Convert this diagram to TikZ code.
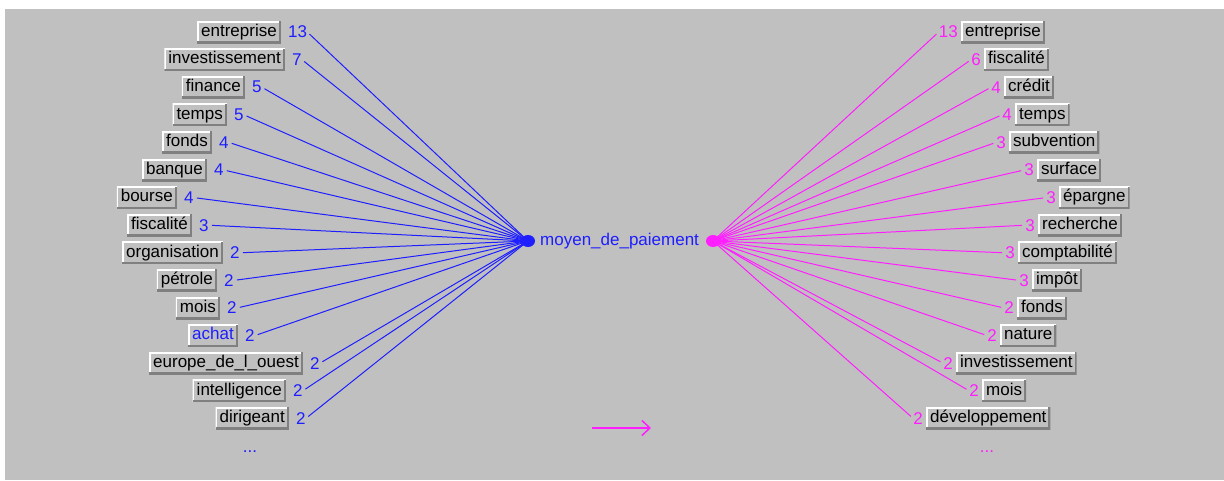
\documentclass[tikz,border=0pt]{standalone}
\usepackage{fontspec}
\setmainfont{Liberation Sans}
\usetikzlibrary{arrows.meta,positioning}
\definecolor{panelF}{HTML}{C0C0C0}
\definecolor{edgeD}{HTML}{808080}
\definecolor{leftC}{HTML}{1E1EFF}
\definecolor{rightC}{HTML}{FF1EFF}
\tikzset{
  word/.style={fill=panelF, inner xsep=4pt, inner ysep=0pt, text height=12.5pt, text depth=4pt,
               minimum height=22pt, font=\fontsize{17}{20}\selectfont,
               path picture={
                 \draw[white, line width=3pt] (path picture bounding box.south west) |- (path picture bounding box.north east);
                 \draw[edgeD, line width=4pt] (path picture bounding box.south west) -| (path picture bounding box.north east);}},
  num/.style={inner sep=0pt, font=\fontsize{17}{20}\selectfont},
  fanL/.style={draw=leftC, line width=1pt},
  fanR/.style={draw=rightC, line width=1pt},
  arr/.style={-{Straight Barb[length=8pt,width=15pt]}, draw=rightC, line width=1.5pt},
}
\begin{document}
\begin{tikzpicture}[x=1pt, y=-1pt]
\useasboundingbox (0,0) rectangle (1224,480);
\fill[white] (0,0) rectangle (1224,480);
\fill[panelF] (5,9) rectangle (1224,480);
\coordinate (hubL) at (528,241);
\coordinate (hubR) at (713,241);
% left fan
\foreach \xr/\w/\n [count=\i] in {281/entreprise/13, 285/investissement/7, 245/finance/5, 227/temps/5,
    212/fonds/4, 207/banque/4, 177/bourse/4, 192/fiscalité/3, 223/organisation/2, 217/pétrole/2,
    220/mois/2, 238/{\textcolor{leftC}{achat}}/2, 303/europe\_de\_l\_ouest/2, 286/intelligence/2, 289/dirigeant/2}{
  \node[word, anchor=east] (lw\i) at (\xr,{32+27.6*(\i-1)}) {\w};
  \node[num, text=leftC, right=7pt of lw\i] (ln\i) {\n};
  \draw[fanL, shorten <=3pt] (ln\i.east) -- (hubL);
}
% right fan
\foreach \xl/\w/\n [count=\i] in {961/entreprise/13, 984/fiscalité/6, 1004/crédit/4, 1015/temps/4,
    1009/subvention/3, 1037/surface/3, 1059/épargne/3, 1038/recherche/3, 1018/comptabilité/3, 1032/impôt/3,
    1017/fonds/2, 1000/nature/2, 956/investissement/2, 982/mois/2, 926/développement/2}{
  \node[word, anchor=west] (rw\i) at (\xl,{32+27.6*(\i-1)}) {\w};
  \node[num, text=rightC, left=3pt of rw\i] (rn\i) {\n};
  \draw[fanR, shorten >=3pt] (hubR) -- (rn\i.west);
}
\fill[leftC] (hubL) ellipse (7 and 6);
\fill[rightC] (hubR) ellipse (7 and 6);
\node[num, text=leftC, anchor=west] (mid) at (540,241) {moyen\_de\_paiement};
\node[num, text=leftC, anchor=base] (moreL) at (250,452) {...};
\node[num, text=rightC, anchor=base] (moreR) at (987,452) {...};
\coordinate (a0) at (592,428);
\coordinate (a1) at (651,428);
\draw[arr] (a0) -- (a1);
\end{tikzpicture}
\end{document}
